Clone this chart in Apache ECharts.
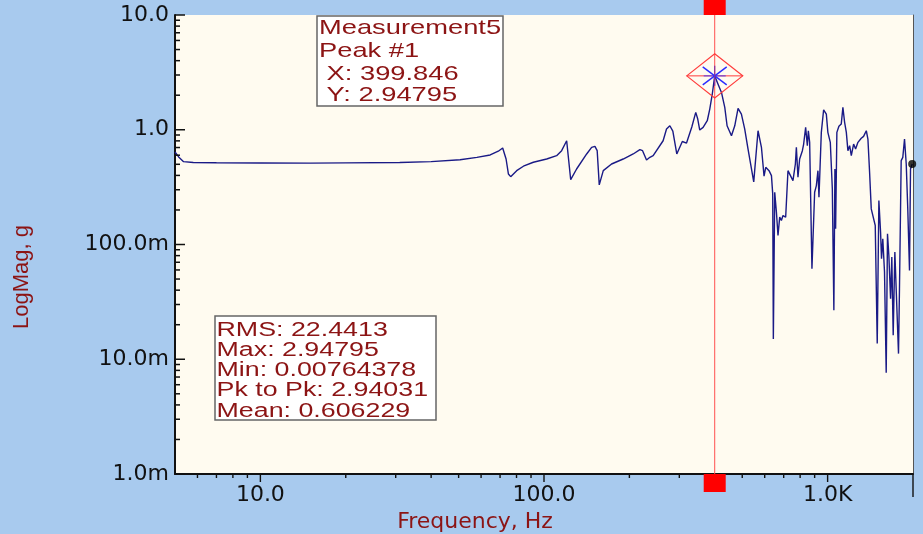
<!DOCTYPE html>
<html><head><meta charset="utf-8">
<script src="https://cdn.jsdelivr.net/npm/echarts@6/dist/echarts.min.js"></script>
<style>html,body{margin:0;padding:0;background:#a8caee;} #c{width:923px;height:534px;}</style>
</head><body><div id="c"></div>
<script>
// ---- data ----
const freqHz = [5.0, 5.15, 5.36, 5.8, 7, 10, 15, 20, 31, 40, 50.6, 58, 64.6, 69, 71.5, 73.5, 74.9, 76.3, 80.1, 84.6, 91.7,
  102.2, 110.8, 115.4, 118.6, 120.2, 124.2, 130.3, 141.4, 147.2, 151.2, 154.0, 156.6, 161.8, 173.1, 190.2, 206.3, 217.8,
  222.6, 229.9, 236.2, 242.6, 263.0, 270.4, 277.8, 281.6, 284.6, 293.9, 307.4, 318.1, 332, 342.8, 348.4, 354.1, 363.9,
  376.4, 384.1, 392, 399.846, 410.9, 422.4, 433.9, 442.1, 458.1, 470.5, 483.3, 496.6, 510.2, 524.1, 548.9, 568.4, 584.3,
  596.8, 605.1, 621.5, 633.8, 640.4, 643.6, 650.9, 659.9, 668.4, 677.7, 687.1, 696.0, 711.3, 724.8, 734.5, 754.7, 769.6,
  775.9, 786, 796.9, 814.7, 823.2, 836.6, 848.3, 855.1, 864.3, 880.5, 900, 912.6, 924.5, 932.1, 950.1, 968.1, 989.5,
  1002, 1010, 1022, 1039, 1052, 1061, 1067, 1078, 1096, 1117, 1132, 1148, 1164, 1179, 1196, 1212, 1235, 1255, 1279,
  1314, 1339, 1369, 1387, 1406, 1425, 1444, 1472, 1496, 1516, 1537, 1549, 1565, 1587, 1609, 1626, 1644, 1667, 1684,
  1703, 1726, 1754, 1778, 1792, 1817, 1841, 1867, 1893, 1917, 1944, 1960, 1987];
const logMagG = [0.64, 0.58, 0.527, 0.518, 0.515, 0.513, 0.512, 0.514, 0.518, 0.527, 0.548, 0.575, 0.603, 0.65, 0.693, 0.556, 0.412, 0.390, 0.440, 0.481, 0.521,
  0.556, 0.594, 0.657, 0.751, 0.802, 0.367, 0.455, 0.615, 0.703, 0.717, 0.657, 0.331, 0.440, 0.503, 0.556, 0.615, 0.670,
  0.657, 0.545, 0.575, 0.594, 0.802, 1.014, 1.083, 1.121, 0.974, 0.615, 0.790, 0.766, 1.056, 1.417, 1.239, 0.994, 1.049,
  1.198, 1.514, 2.04, 2.94795, 2.497, 2.115, 1.566, 1.083, 0.887, 1.083, 1.535, 1.369, 1.014, 0.679, 0.351, 0.980, 0.703,
  0.394, 0.471, 0.440, 0.398, 0.276, 0.0150, 0.2855, 0.191, 0.1198, 0.173, 0.162, 0.1787, 0.173, 0.440, 0.440, 0.360, 0.503,
  0.703, 0.386, 0.556, 0.657, 0.751, 1.049, 0.726, 0.980, 0.777, 0.0615, 0.2855, 0.326, 0.440, 0.258, 0.949, 1.493, 1.369,
  0.949, 0.980, 0.777, 0.305, 0.0267, 0.455, 0.137, 0.949, 1.071, 1.121, 1.566, 1.160, 0.949, 0.657, 0.726, 0.594, 0.751, 0.679, 0.777,
  0.842, 0.876, 0.980, 0.830, 0.426, 0.2043, 0.1977, 0.1463, 0.01369, 0.2413, 0.1282, 0.0751, 0.1122, 0.0575, 0.00764378, 0.1239, 0.0802, 0.0337, 0.0777,
  0.0162, 0.0859, 0.0887, 0.0112, 0.0412, 0.538, 0.575, 0.830, 0.503, 0.2043, 0.0594, 0.455, 0.503];

const xTickValues = [10, 100, 1000];
const xTickLabels = ['10.0', '100.0', '1.0K'];
const yTickValues = [0.001, 0.01, 0.1, 1, 10];
const yTickLabels = ['1.0m', '10.0m', '100.0m', '1.0', '10.0'];
const xMinorTickValues = [6, 7, 8, 9, 20, 30, 40, 50, 60, 70, 80, 90, 200, 300, 400, 500, 600, 700, 800, 900];
const xEndTickValues = [2000];
const yMinorTickValues = [0.002, 0.003, 0.004, 0.005, 0.006, 0.007, 0.008, 0.009,
  0.02, 0.03, 0.04, 0.05, 0.06, 0.07, 0.08, 0.09,
  0.2, 0.3, 0.4, 0.5, 0.6, 0.7, 0.8, 0.9,
  2, 3, 4, 5, 6, 7, 8, 9];
const peakX = 399.846, peakY = 2.94795;
const peakBoxLines = ['Measurement5', 'Peak #1', ' X: 399.846', ' Y: 2.94795'];
const statsLines = ['RMS: 22.4413', 'Max: 2.94795', 'Min: 0.00764378', 'Pk to Pk: 2.94031', 'Mean: 0.606229'];
const X_MIN = 5, X_MAX = 2000, Y_MIN = 0.001, Y_MAX = 10;

// ---- chart ----
const curve = freqHz.map((f, i) => [f, logMagG[i]]);
const last = curve[curve.length - 1];
const DARKRED = '#8c1414';
const AXIS = '#111';

function labelFor(values, labels) {
  return function (v) {
    for (let i = 0; i < values.length; i++) {
      if (Math.abs(Math.log10(v) - Math.log10(values[i])) < 1e-6) return labels[i];
    }
    return '';
  };
}

const chart = echarts.init(document.getElementById('c'), null, { renderer: 'canvas' });

const graphics = [];
graphics.push({ type: 'rect', z: 100, shape: { x: 317, y: 16, width: 186, height: 90 },
  style: { fill: '#ffffff', stroke: '#666', lineWidth: 1.5 } });
const box1Y = [28.3, 50.8, 73.8, 94.8];
peakBoxLines.forEach((t, i) => graphics.push({ type: 'text', z: 101, x: 319, y: box1Y[i], scaleX: 1.3,
  style: { text: t, fill: DARKRED, font: '21px "Liberation Sans", Arial, sans-serif', fontSize: 21,
    fontFamily: '"Liberation Sans", Arial, sans-serif', align: 'left', verticalAlign: 'middle' } }));
graphics.push({ type: 'rect', z: 100, shape: { x: 215, y: 316, width: 221, height: 104 },
  style: { fill: '#ffffff', stroke: '#666', lineWidth: 1.5 } });
const box2Y = [330, 350.3, 370.6, 390.9, 411.2];
statsLines.forEach((t, i) => graphics.push({ type: 'text', z: 101, x: 216.5, y: box2Y[i], scaleX: 1.34,
  style: { text: t, fill: DARKRED, font: '20px "Liberation Sans", Arial, sans-serif', fontSize: 20,
    fontFamily: '"Liberation Sans", Arial, sans-serif', align: 'left', verticalAlign: 'middle' } }));

function xTickRender(params, api) {
  const v = api.value(0);
  const p = api.coord([v, Y_MIN]);
  let len = 4;
  if (xTickValues.some(t => Math.abs(t - v) < 1e-9)) len = 8;
  if (xEndTickValues.some(t => Math.abs(t - v) < 1e-9)) len = 23;
  return { type: 'line', shape: { x1: p[0], y1: p[1], x2: p[0], y2: p[1] + len },
    style: { stroke: AXIS, lineWidth: 1.4 } };
}
function yTickRender(params, api) {
  const v = api.value(1);
  const p = api.coord([X_MIN, v]);
  let len = 5;
  if (yTickValues.some(t => Math.abs(Math.log10(t) - Math.log10(v)) < 1e-9)) len = 10;
  return { type: 'line', shape: { x1: p[0], y1: p[1], x2: p[0] + len, y2: p[1] },
    style: { stroke: AXIS, lineWidth: 1.5 } };
}
function peakRender(params, api) {
  const x = api.value(0), y = api.value(1);
  const p = api.coord([x, y]);
  const top = api.coord([x, Y_MAX])[1];
  const bot = api.coord([x, Y_MIN])[1];
  const RED = '#ff3b3b', BLUE = '#2a2aff';
  return { type: 'group', children: [
    { type: 'line', shape: { x1: p[0], y1: top, x2: p[0], y2: bot }, style: { stroke: '#ff5050', lineWidth: 1 }, z2: 5 },
    { type: 'rect', shape: { x: p[0] - 11, y: top - 18, width: 22, height: 18 }, style: { fill: '#ff0000' }, z2: 6 },
    { type: 'rect', shape: { x: p[0] - 11, y: bot, width: 22, height: 18 }, style: { fill: '#ff0000' }, z2: 6 },
    { type: 'polygon', shape: { points: [[p[0] - 28, p[1]], [p[0], p[1] - 22], [p[0] + 28, p[1]], [p[0], p[1] + 22]] },
      style: { fill: 'none', stroke: RED, lineWidth: 1.2 }, z2: 7 },
    { type: 'line', shape: { x1: p[0] - 28, y1: p[1], x2: p[0] + 28, y2: p[1] }, style: { stroke: RED, lineWidth: 1 }, z2: 7 },
    { type: 'line', shape: { x1: p[0] - 12, y1: p[1] - 9, x2: p[0] + 12, y2: p[1] + 9 }, style: { stroke: BLUE, lineWidth: 1.4 }, z2: 8 },
    { type: 'line', shape: { x1: p[0] - 12, y1: p[1] + 9, x2: p[0] + 12, y2: p[1] - 9 }, style: { stroke: BLUE, lineWidth: 1.4 }, z2: 8 },
    { type: 'line', shape: { x1: p[0] - 11, y1: p[1], x2: p[0] + 11, y2: p[1] }, style: { stroke: BLUE, lineWidth: 1.2, opacity: 0.7 }, z2: 8 },
    { type: 'line', shape: { x1: p[0], y1: p[1] - 10, x2: p[0], y2: p[1] + 10 }, style: { stroke: '#8030a0', lineWidth: 1.2 }, z2: 9 }
  ] };
}

chart.setOption({
  animation: false,
  backgroundColor: '#a8caee',
  grid: { left: 175, right: 10, top: 15, bottom: 60, containLabel: false, outerBoundsMode: 'none',
    show: true, backgroundColor: '#fffbf0', borderWidth: 0 },
  xAxis: {
    type: 'log', logBase: 10, min: X_MIN, max: X_MAX,
    name: 'Frequency, Hz', nameLocation: 'middle', nameGap: 30,
    nameTextStyle: { fontFamily: 'DejaVu Sans', fontSize: 22, color: DARKRED, padding: [0, 138, 0, 0] },
    axisLine: { show: true, lineStyle: { color: AXIS, width: 2 } },
    axisTick: { show: false }, minorTick: { show: false }, splitLine: { show: false },
    axisLabel: { formatter: labelFor(xTickValues, xTickLabels), margin: 10, color: '#111',
      fontFamily: 'DejaVu Sans', fontSize: 22, showMinLabel: true, showMaxLabel: true, hideOverlap: false }
  },
  yAxis: [{
    type: 'log', logBase: 10, min: Y_MIN, max: Y_MAX, splitNumber: 4,
    name: 'LogMag, g', nameLocation: 'middle', nameRotate: 90, nameGap: 142,
    nameTextStyle: { fontFamily: 'Liberation Sans', fontSize: 22, color: DARKRED, padding: [0, 65, 0, 0] },
    axisLine: { show: true, lineStyle: { color: AXIS, width: 2 } },
    axisTick: { show: false }, minorTick: { show: false }, splitLine: { show: false },
    axisLabel: { formatter: labelFor(yTickValues, yTickLabels), margin: 6, color: '#111',
      fontFamily: 'DejaVu Sans', fontSize: 22, hideOverlap: false }
  }, {
    type: 'log', logBase: 10, min: Y_MIN, max: Y_MAX, position: 'right',
    axisLine: { show: true, lineStyle: { color: '#555', width: 1 } },
    axisTick: { show: false }, axisLabel: { show: false }, splitLine: { show: false }
  }],
  graphic: graphics,
  series: [
    { type: 'line', data: curve, showSymbol: false, silent: true, z: 3,
      lineStyle: { color: '#1a1a86', width: 1.4 } },
    { type: 'scatter', data: [last], symbol: 'circle', symbolSize: 8, silent: true, z: 12,
      itemStyle: { color: '#000' } },
    { type: 'custom', data: xMinorTickValues.concat(xTickValues, xEndTickValues).map(v => [v, Y_MIN]),
      renderItem: xTickRender, clip: false, silent: true, z: 5 },
    { type: 'custom', data: yMinorTickValues.concat(yTickValues).map(v => [X_MIN, v]),
      renderItem: yTickRender, clip: false, silent: true, z: 5 },
    { type: 'custom', data: [[peakX, peakY]], renderItem: peakRender, clip: false, silent: true, z: 10 }
  ]
});
</script></body></html>
